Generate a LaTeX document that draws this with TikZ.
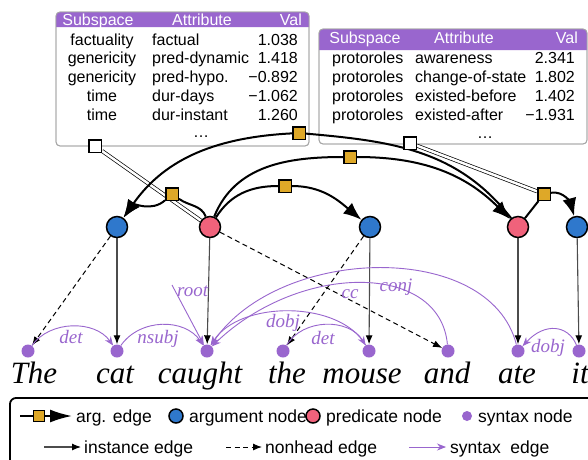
\documentclass[tikz,border=0pt]{standalone}
\usepackage{fontspec}
\setmainfont{Liberation Serif}
\setsansfont{Liberation Sans}
\usetikzlibrary{arrows.meta}

\definecolor{argblue}{RGB}{47,120,204}
\definecolor{predred}{RGB}{240,98,123}
\definecolor{synpurple}{RGB}{153,102,206}
\definecolor{sqgold}{RGB}{222,168,40}

\pgfdeclarelayer{back}
\pgfsetlayers{back,main}

\tikzset{
	argnode/.style={circle,draw,line width=1.5pt,fill=argblue,minimum size=21pt,inner sep=0},
	prednode/.style={argnode,fill=predred},
	synnode/.style={circle,fill=synpurple,minimum size=13pt,inner sep=0},
	sqr/.style={rectangle,draw,line width=1.5pt,fill=sqgold,minimum size=12.5pt,inner sep=0},
	wsqr/.style={sqr,fill=white},
	argedge/.style={line width=2pt},
	argarrow/.style={argedge,-{Latex[length=18pt,width=14pt]}},
	instedge/.style={line width=1.1pt,draw=black!70,-{Latex[length=9pt,width=7pt,color=black]}},
	nonhead/.style={line width=1pt,dash pattern=on 5pt off 3.5pt,-{Latex[length=9pt,width=7pt]}},
	synedge/.style={synpurple,line width=0.9pt,-{Stealth[length=9pt,width=7pt]}},
	attline/.style={draw=black,double=white,line width=0.7pt,double distance=2.5pt},
	word/.style={font=\fontsize{31}{31}\selectfont\itshape,inner sep=0,anchor=base},
	synlbl/.style={text=synpurple,font=\fontsize{19}{19}\selectfont\itshape,inner sep=0,anchor=base},
	tbl/.style={font=\sffamily\fontsize{16}{18}\selectfont,inner sep=0},
	hdr/.style={tbl,text=white},
	legtxt/.style={font=\sffamily\fontsize{17.5}{18}\selectfont,inner sep=0,anchor=base west},
}

\begin{document}
\begin{tikzpicture}[x=1pt,y=1pt]
	\useasboundingbox (0,0) rectangle (588,-459);
	% attribute tables
	\begin{pgfonlayer}{back}
		\fill[white] (0,0) rectangle (588,-459);
		\draw[gray!70,line width=0.8pt,fill=white,rounded corners=4pt] (56,-12) rectangle (309,-146);
		\fill[synpurple] (56,-27) {[rounded corners=4pt] -- (56,-12) -- (309,-12)} -- (309,-27) -- cycle;
		\draw[gray!70,line width=0.8pt,rounded corners=4pt] (56,-12) rectangle (309,-146);
		\draw[gray!70,line width=0.8pt,fill=white,rounded corners=4pt] (319,-29) rectangle (587,-144);
		\fill[synpurple] (319,-50) {[rounded corners=4pt] -- (319,-29) -- (587,-29)} -- (587,-50) -- cycle;
		\draw[gray!70,line width=0.8pt,rounded corners=4pt] (319,-29) rectangle (587,-144);
	\end{pgfonlayer}
	% predicate table
		\node[hdr,anchor=base] (psub) at (98,-25) {Subspace};
		\node[hdr,anchor=base] (patt) at (202,-25) {Attribute};
		\node[hdr,anchor=base east] (pval) at (302,-25) {Val};
		\foreach \s/\a/\v [count=\i] in {factuality/factual/1.038,genericity/pred-dynamic/1.418,genericity/pred-hypo./−0.892,time/dur-days/−1.062,time/dur-instant/1.260}{
			\node[tbl,anchor=base] (ps\i) at (102,-26.2-18.8*\i) {\s};
			\node[tbl,anchor=base west] (pa\i) at (152,-26.2-18.8*\i) {\a};
			\node[tbl,anchor=base east] (pv\i) at (298,-26.2-18.8*\i) {\v};
		}
		\node[tbl,anchor=base] (pdots) at (201,-137) {\dots};
	% argument edge table
		\node[hdr,anchor=base] (asub) at (365,-43) {Subspace};
		\node[hdr,anchor=base] (aatt) at (464,-43) {Attribute};
		\node[hdr,anchor=base east] (aval) at (578,-43) {Val};
		\foreach \a/\v [count=\i] in {awareness/2.341,change-of-state/1.802,existed-before/1.402,existed-after/−1.931}{
			\node[tbl,anchor=base west] (as\i) at (332,-45-18.8*\i) {protoroles};
			\node[tbl,anchor=base west] (aa\i) at (415,-45-18.8*\i) {\a};
			\node[tbl,anchor=base east] (av\i) at (575,-45-18.8*\i) {\v};
		}
		\node[tbl,anchor=base] (adots) at (485,-138) {\dots};
	% semantic nodes
		\node[argnode] (ncat) at (117,-227) {};
		\node[prednode] (ncaught) at (210,-227) {};
		\node[argnode] (nmouse) at (370,-227) {};
		\node[prednode] (nate) at (518,-227) {};
		\node[argnode] (nit) at (577,-227) {};
	% attribute squares
		\node[wsqr] (wsqp) at (95,-146) {};
		\node[wsqr] (wsqa) at (410,-143) {};
		\node[sqr] (sqa) at (172,-194) {};
		\node[sqr] (sqb) at (285,-186) {};
		\node[sqr] (sqc) at (350,-157) {};
		\node[sqr] (sqd) at (299,-133) {};
		\node[sqr] (sqe) at (544,-194) {};
	% syntax nodes and words
		\foreach \w/\n/\x/\wx in {The/sThe/28/34,cat/scat/117/115,caught/scaught/207/200,the/sthe/283/287,mouse/smouse/369/362,and/sand/448/447,ate/sate/518/517,it/sit/579/580}{
			\node[synnode] (\n) at (\x,-351) {};
			\node[word] (w\n) at (\wx,-383) {\w};
		}
		\coordinate (rootc) at (172,-285);
	% syntax labels
		\node[synlbl] (ldet) at (71,-343) {det};
		\node[synlbl] (lnsubj) at (158,-343) {nsubj};
		\node[synlbl,anchor=base west] (lroot) at (177,-296) {root};
		\node[synlbl] (ldobj) at (283,-327) {dobj};
		\node[synlbl] (ldett) at (323,-344) {det};
		\node[synlbl] (lcc) at (350,-298) {cc};
		\node[synlbl] (lconj) at (396,-291) {conj};
		\node[synlbl] (ldobjt) at (548,-352) {dobj};
	% edges
	\begin{pgfonlayer}{back}
		% attribute links
		\draw[attline] (wsqp) -- (ncaught);
		\draw[attline] (wsqa) -- (sqe);
		% argument edges
		\draw[argedge] (ncaught) to[out=112,in=-35] (sqa);
		\draw[argarrow] (sqa) to[out=222,in=55] (ncat);
		\draw[argedge] (ncaught) to[out=58,in=180] (sqb);
		\draw[argarrow] (sqb) to[out=0,in=140] (nmouse);
		\draw[argedge] (ncaught) to[out=68,in=180] (sqc);
		\draw[argarrow] (sqc) to[out=0,in=135] (nate);
		\draw[argedge] (nate) to[out=128,in=-5] (sqd);
		\draw[argarrow] (sqd) to[out=183,in=55] (ncat);
		\draw[argedge] (nate) -- (sqe);
		\draw[argarrow] (sqe) to[out=10,in=105] (nit);
		% instance edges
		\draw[instedge] (ncat) -- (scat);
		\draw[instedge] (ncaught) -- (scaught);
		\draw[instedge] (nmouse) -- (smouse);
		\draw[instedge] (nate) -- (sate);
		\draw[instedge] (nit) -- (sit);
		% nonhead edges
		\draw[nonhead] (ncat) -- (sThe);
		\draw[nonhead] (ncaught) -- (sand);
		\draw[nonhead] (nmouse) -- (sthe);
		% syntax edges
		\draw[synedge] (sThe) .. controls +(22,31) and +(-22,31) .. (scat);
		\draw[synedge] (scat) .. controls +(23,33) and +(-22,33) .. (scaught);
		\draw[synedge] (rootc) -- (scaught);
		\draw[synedge] (smouse) .. controls +(-29,51) and +(33,51) .. (scaught);
		\draw[synedge] (sthe) .. controls +(20,33) and +(-20,33) .. (smouse);
		\draw[synedge] (sand) .. controls +(-8,89) and +(93,89) .. (scaught);
		\draw[synedge] (sate) .. controls +(-28,111) and +(73,106) .. (scaught);
		\draw[synedge] (sit) .. controls +(-11,26) and +(27,29) .. (sate);
	\end{pgfonlayer}
	% legend
		\draw[line width=1.8pt,rounded corners=6pt] (10,-398) rectangle (620,-480);
		\coordinate (la1) at (20,-416);
		\coordinate (la2) at (72,-416);
		\node[sqr,minimum size=11pt] (lsq) at (39,-416) {};
		\draw[argedge] (la1) -- (lsq);
		\draw[argedge,-{Latex[length=22pt,width=13pt]}] (lsq) -- (la2);
		\node[legtxt] (targ) at (76,-422) {arg. edge};
		\node[argnode,minimum size=14pt] (lblue) at (176,-416) {};
		\node[legtxt] (tanode) at (189,-422) {argument node};
		\node[prednode,minimum size=14pt] (lred) at (313,-416) {};
		\node[legtxt] (tpnode) at (326,-422) {predicate node};
		\node[synnode,minimum size=10pt] (lpurp) at (467,-416) {};
		\node[legtxt] (tsnode) at (478,-422) {syntax node};
		\coordinate (lb1) at (44,-447);
		\coordinate (lb2) at (81,-447);
		\draw[instedge] (lb1) -- (lb2);
		\node[legtxt] (tinst) at (84,-453) {instance edge};
		\coordinate (lc1) at (226,-447);
		\coordinate (lc2) at (262,-447);
		\draw[nonhead] (lc1) -- (lc2);
		\node[legtxt] (tnonh) at (265,-453) {nonhead edge};
		\coordinate (ld1) at (409,-447);
		\coordinate (ld2) at (446,-447);
		\draw[synedge] (ld1) -- (ld2);
		\node[legtxt] (tsyn) at (450,-453) {syntax~ edge};
\end{tikzpicture}
\end{document}
